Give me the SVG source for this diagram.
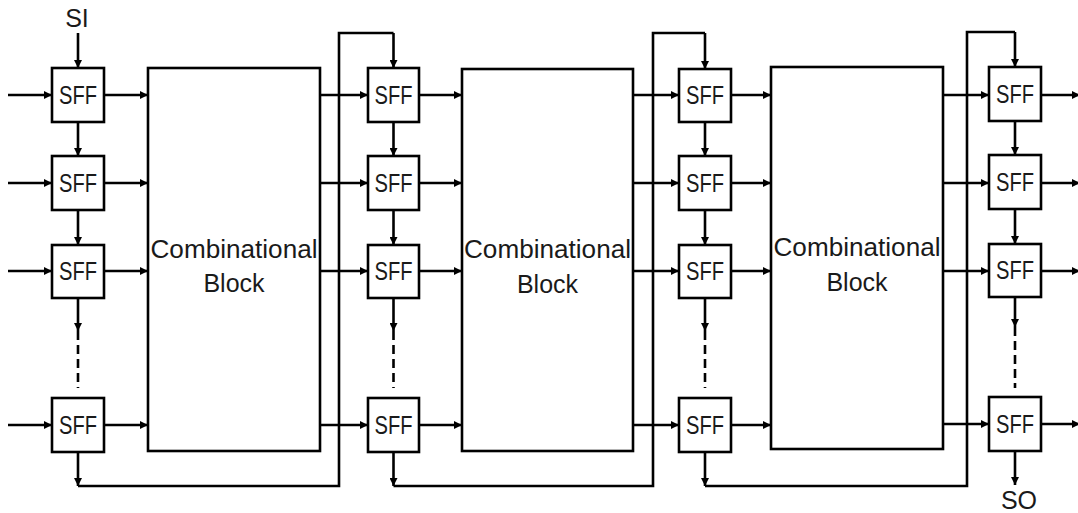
<svg xmlns="http://www.w3.org/2000/svg" width="1078" height="513" viewBox="0 0 1078 513">
<style>
.box{fill:#fff;stroke:#000;stroke-width:2.6}
.ln{fill:none;stroke:#000;stroke-width:2.6}
.arr{fill:none;stroke:#000;stroke-width:2.6;marker-end:url(#ah)}
.dash{fill:none;stroke:#000;stroke-width:2.6;stroke-dasharray:9 5}
.t{font-family:"Liberation Sans",Arial,sans-serif;fill:#1a1a1a}
.sff{font-size:25px;text-anchor:middle}
.cb{font-size:25px;text-anchor:middle}
.io{font-size:25px;text-anchor:middle}
</style>
<defs>
<marker id="ah" viewBox="0 0 10 10" refX="10" refY="5" markerWidth="10" markerHeight="8" markerUnits="userSpaceOnUse" orient="auto">
<path d="M0,0 L10,5 L0,10 z" fill="#000"/>
</marker>
</defs>
<rect width="1078" height="513" fill="#fff"/>

<g id="connectors">
<path class="arr" d="M78,33 V68"/>
<path class="arr" d="M8,95 H52"/>
<path class="arr" d="M8,183 H52"/>
<path class="arr" d="M8,271 H52"/>
<path class="arr" d="M8,425 H52"/>
<path class="arr" d="M104,95 H148"/>
<path class="arr" d="M104,183 H148"/>
<path class="arr" d="M104,271 H148"/>
<path class="arr" d="M104,425 H148"/>
<path class="arr" d="M78,122 V156"/>
<path class="arr" d="M78,210 V245"/>
<path class="arr" d="M78,298 V331"/>
<path class="dash" d="M78,331 V388"/>
<path class="arr" d="M78,452 V486"/>
<path class="ln" d="M78,486 H339 V33 H393.5"/>
<path class="arr" d="M393.5,33 V68"/>
<path class="arr" d="M320,95 H368"/>
<path class="arr" d="M320,183 H368"/>
<path class="arr" d="M320,271 H368"/>
<path class="arr" d="M320,425 H368"/>
<path class="arr" d="M419,95 H462"/>
<path class="arr" d="M419,183 H462"/>
<path class="arr" d="M419,271 H462"/>
<path class="arr" d="M419,425 H462"/>
<path class="arr" d="M393.5,122 V156"/>
<path class="arr" d="M393.5,210 V245"/>
<path class="arr" d="M393.5,298 V331"/>
<path class="dash" d="M393.5,331 V388"/>
<path class="arr" d="M393.5,452 V486"/>
<path class="ln" d="M393.5,486 H653 V33 H705"/>
<path class="arr" d="M705,33 V69"/>
<path class="arr" d="M633,95 H679"/>
<path class="arr" d="M633,183 H679"/>
<path class="arr" d="M633,271 H679"/>
<path class="arr" d="M633,425 H679"/>
<path class="arr" d="M731,95 H771"/>
<path class="arr" d="M731,183 H771"/>
<path class="arr" d="M731,271 H771"/>
<path class="arr" d="M731,425 H771"/>
<path class="arr" d="M705,122 V156"/>
<path class="arr" d="M705,210 V245"/>
<path class="arr" d="M705,298 V331"/>
<path class="dash" d="M705,331 V388"/>
<path class="arr" d="M705,452 V486"/>
<path class="ln" d="M705,486 H967 V32 H1015"/>
<path class="arr" d="M1015,32 V67"/>
<path class="arr" d="M943,95 H989"/>
<path class="arr" d="M943,183 H989"/>
<path class="arr" d="M943,271 H989"/>
<path class="arr" d="M943,424 H989"/>
<path class="arr" d="M1041,95 H1080"/>
<path class="arr" d="M1041,183 H1080"/>
<path class="arr" d="M1041,271 H1080"/>
<path class="arr" d="M1041,424 H1080"/>
<path class="arr" d="M1015,121 V155"/>
<path class="arr" d="M1015,209 V244"/>
<path class="arr" d="M1015,297 V327"/>
<path class="dash" d="M1015,327 V388"/>
<path class="arr" d="M1015,451 V485"/>
</g>

<g id="label-SI"><text class="t io" x="77" y="27">SI</text></g>
<g id="label-SO"><text class="t io" x="1019" y="509">SO</text></g>

<g id="sff-1-1"><rect class="box" x="52" y="68" width="52" height="54"/><text class="t sff" x="78" y="104" textLength="38" lengthAdjust="spacingAndGlyphs">SFF</text></g>
<g id="sff-1-2"><rect class="box" x="52" y="156" width="52" height="54"/><text class="t sff" x="78" y="192" textLength="38" lengthAdjust="spacingAndGlyphs">SFF</text></g>
<g id="sff-1-3"><rect class="box" x="52" y="245" width="52" height="53"/><text class="t sff" x="78" y="280" textLength="38" lengthAdjust="spacingAndGlyphs">SFF</text></g>
<g id="sff-1-4"><rect class="box" x="52" y="398" width="52" height="54"/><text class="t sff" x="78" y="434" textLength="38" lengthAdjust="spacingAndGlyphs">SFF</text></g>

<g id="block-1"><rect class="box" x="148" y="68" width="172" height="383"/><text class="t cb" x="234" y="258" textLength="167" lengthAdjust="spacingAndGlyphs">Combinational</text><text class="t cb" x="234" y="292">Block</text></g>

<g id="sff-2-1"><rect class="box" x="368" y="68" width="51" height="54"/><text class="t sff" x="393.5" y="104" textLength="38" lengthAdjust="spacingAndGlyphs">SFF</text></g>
<g id="sff-2-2"><rect class="box" x="368" y="156" width="51" height="54"/><text class="t sff" x="393.5" y="192" textLength="38" lengthAdjust="spacingAndGlyphs">SFF</text></g>
<g id="sff-2-3"><rect class="box" x="368" y="245" width="51" height="53"/><text class="t sff" x="393.5" y="280" textLength="38" lengthAdjust="spacingAndGlyphs">SFF</text></g>
<g id="sff-2-4"><rect class="box" x="368" y="398" width="51" height="54"/><text class="t sff" x="393.5" y="434" textLength="38" lengthAdjust="spacingAndGlyphs">SFF</text></g>

<g id="block-2"><rect class="box" x="462" y="69" width="171" height="382"/><text class="t cb" x="547.5" y="258" textLength="167" lengthAdjust="spacingAndGlyphs">Combinational</text><text class="t cb" x="547.5" y="293">Block</text></g>

<g id="sff-3-1"><rect class="box" x="679" y="69" width="52" height="53"/><text class="t sff" x="705" y="104" textLength="38" lengthAdjust="spacingAndGlyphs">SFF</text></g>
<g id="sff-3-2"><rect class="box" x="679" y="156" width="52" height="54"/><text class="t sff" x="705" y="192" textLength="38" lengthAdjust="spacingAndGlyphs">SFF</text></g>
<g id="sff-3-3"><rect class="box" x="679" y="245" width="52" height="53"/><text class="t sff" x="705" y="280" textLength="38" lengthAdjust="spacingAndGlyphs">SFF</text></g>
<g id="sff-3-4"><rect class="box" x="679" y="398" width="52" height="54"/><text class="t sff" x="705" y="434" textLength="38" lengthAdjust="spacingAndGlyphs">SFF</text></g>

<g id="block-3"><rect class="box" x="771" y="67" width="172" height="382"/><text class="t cb" x="857" y="256" textLength="167" lengthAdjust="spacingAndGlyphs">Combinational</text><text class="t cb" x="857" y="291">Block</text></g>

<g id="sff-4-1"><rect class="box" x="989" y="67" width="52" height="54"/><text class="t sff" x="1015" y="103" textLength="38" lengthAdjust="spacingAndGlyphs">SFF</text></g>
<g id="sff-4-2"><rect class="box" x="989" y="155" width="52" height="54"/><text class="t sff" x="1015" y="191" textLength="38" lengthAdjust="spacingAndGlyphs">SFF</text></g>
<g id="sff-4-3"><rect class="box" x="989" y="244" width="52" height="53"/><text class="t sff" x="1015" y="279" textLength="38" lengthAdjust="spacingAndGlyphs">SFF</text></g>
<g id="sff-4-4"><rect class="box" x="989" y="397" width="52" height="54"/><text class="t sff" x="1015" y="433" textLength="38" lengthAdjust="spacingAndGlyphs">SFF</text></g>
</svg>
